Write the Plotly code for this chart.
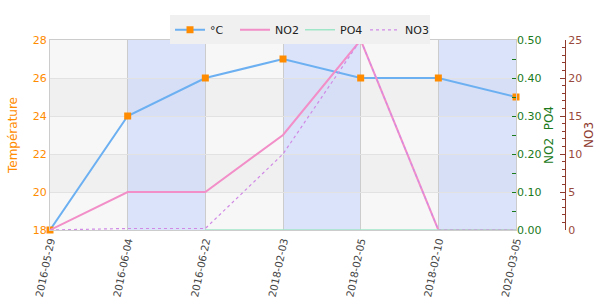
import plotly.graph_objects as go

dates = ["2016-05-29", "2016-06-04", "2016-06-22", "2018-02-03", "2018-02-05", "2018-02-10", "2020-03-05"]
temperature = [18, 24, 26, 27, 26, 26, 25]
no2 = [0.0, 0.10, 0.10, 0.25, 0.50, 0.0, 0.0]
po4 = [None, None, 0.0, 0.0, 0.0, 0.0, 0.0]
no3 = [0.0, 0.2, 0.2, 10.0, 25.0, 0.0, 0.0]

ORANGE = "#ff8c00"
GREEN = "#1b7a1b"
BROWN = "#8e3b2e"
FONT = "DejaVu Sans"

fig = go.Figure()
fig.add_trace(go.Scatter(x=dates, y=temperature, name="°C", mode="lines+markers",
                         line=dict(color="#6cb0f2", width=2),
                         marker=dict(symbol="square", size=7, color=ORANGE),
                         yaxis="y", cliponaxis=False))
fig.add_trace(go.Scatter(x=dates, y=no2, name="NO2", mode="lines",
                         line=dict(color="#f28ec8", width=2), yaxis="y2"))
fig.add_trace(go.Scatter(x=dates, y=po4, name="PO4", mode="lines",
                         line=dict(color="#9fe6c8", width=1.5), yaxis="y2"))
fig.add_trace(go.Scatter(x=dates, y=no3, name="NO3", mode="lines",
                         line=dict(color="#d08ae6", width=1.2, dash="3px,3px"), yaxis="y3"))

shapes = []
for y0, y1 in [(20, 22), (24, 26)]:
    shapes.append(dict(type="rect", xref="paper", yref="y", x0=0, x1=0.863, y0=y0, y1=y1,
                       fillcolor="#f0f0f0", line=dict(width=0), layer="below"))
for x0, x1 in [(1, 2), (3, 4), (5, 6)]:
    shapes.append(dict(type="rect", xref="x", yref="paper", x0=x0, x1=x1, y0=0, y1=1,
                       fillcolor="rgba(180,200,255,0.42)", line=dict(width=0), layer="below"))

fig.update_layout(
    width=600, height=300,
    margin=dict(l=50, r=10, t=40, b=70),
    paper_bgcolor="white", plot_bgcolor="#f7f7f7",
    font=dict(family=FONT, size=11, color="#444"),
    shapes=shapes,
    showlegend=True,
    legend=dict(orientation="h", x=0.463, xanchor="center", y=1.13, yanchor="top",
                bgcolor="#f0f0f0", font=dict(size=11, color="#222"),
                itemwidth=30, entrywidth=20, entrywidthmode="pixels"),
    xaxis=dict(domain=[0, 0.863], type="category", range=[0, 6], tickangle=-78,
               showgrid=True, gridcolor="#cccccc", showline=True, mirror=True,
               linecolor="#cccccc", ticks="", automargin=False,
               tickfont=dict(size=10.3, color="#444")),
    yaxis=dict(range=[18, 28], dtick=2, showgrid=True, gridcolor="#e2e2e2",
               zeroline=False, showline=True, mirror=True, linecolor="#cccccc",
               automargin=False,
               tickfont=dict(color=ORANGE, size=11),
               title=dict(text="Température", font=dict(color=ORANGE, size=12), standoff=12)),
    yaxis2=dict(range=[0, 0.5], dtick=0.1, tickformat=".2f", overlaying="y", side="right",
                anchor="x", showgrid=False, zeroline=False, showline=False, automargin=False,
                ticks="inside", ticklen=4, tickcolor=GREEN,
                minor=dict(dtick=0.05, ticks="inside", ticklen=4, tickcolor=GREEN),
                tickfont=dict(color=GREEN, size=11),
                title=dict(text="NO2  PO4", font=dict(color=GREEN, size=12), standoff=0)),
    yaxis3=dict(range=[0, 25], dtick=5, overlaying="y", side="right", anchor="free",
                position=0.9537, showgrid=False, zeroline=False, automargin=False,
                showline=True, linecolor=BROWN, linewidth=1,
                ticks="inside", ticklen=5, tickcolor=BROWN,
                minor=dict(dtick=1, ticks="inside", ticklen=3, tickcolor=BROWN),
                tickfont=dict(color="#9a4a3c", size=11),
                title=dict(text="NO3", font=dict(color=BROWN, size=12), standoff=2)),
)

fig.write_html("out.html")
